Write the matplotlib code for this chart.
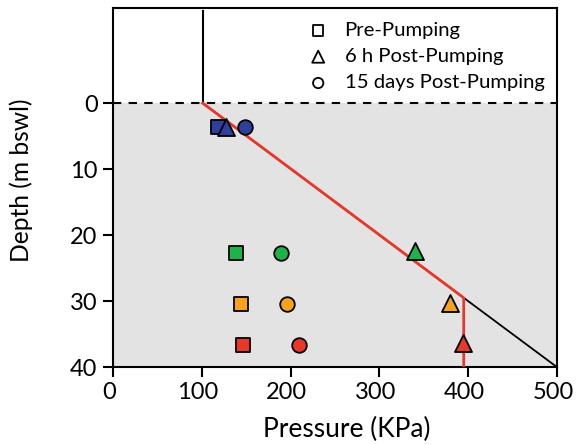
import numpy as np
import matplotlib.pyplot as plt
import matplotlib.transforms as mtransforms

plt.rcParams['font.family'] = ['Lato', 'DejaVu Sans']

# pressure (KPa) and depth (m bswl)
depths = [3.7, 22.7, 30.5, 36.6]
colors = ['#2e3f9e', '#1db34a', '#f7a21b', '#e8382a']
pre_pumping = [118, 139, 144, 147]
post_6h = [127, 340, 380, 394]
post_15d = [149, 189, 196, 210]
tri_depths = [3.6, 22.4, 30.3, 36.4]

# hydrostatic line and measured profile
hydro_p = [101, 395, 500]
hydro_d = [0, 29.5, 40]
red_p = [101, 395, 395]
red_d = [0, 29.5, 40]

fig = plt.figure(figsize=(5.76, 4.45), dpi=100)
ax = fig.add_axes([0.196, 0.175, 0.771, 0.807])

ax.axhspan(0, 40, color='#e3e3e3', zorder=0)
ax.axhline(0, color='black', ls=(0, (4, 3.5)), lw=1.5, zorder=1)
ax.plot([101, 101], [-14, 0], color='black', lw=1.5, zorder=2)
ax.plot(hydro_p, hydro_d, color='black', lw=1.3, zorder=2)
ax.plot(red_p, red_d, color='#e8382a', lw=2, zorder=3)

for i in range(len(depths)):
    ax.scatter(pre_pumping[i], depths[i], marker='s', s=110, c=colors[i],
               edgecolors='black', linewidths=1.3, zorder=4)
    ax.scatter(post_15d[i], depths[i], marker='o', s=110, c=colors[i],
               edgecolors='black', linewidths=1.3, zorder=4)
    ax.scatter(post_6h[i], tri_depths[i], marker='^', s=150, c=colors[i],
               edgecolors='black', linewidths=1.3, zorder=5)

# legend with hollow markers
h1 = ax.scatter([], [], marker='s', s=55, facecolors='none', edgecolors='black', linewidths=1.3)
h2 = ax.scatter([], [], marker='^', s=75, facecolors='none', edgecolors='black', linewidths=1.3)
h3 = ax.scatter([], [], marker='o', s=55, facecolors='none', edgecolors='black', linewidths=1.3)
ax.legend([h1, h2, h3], ['Pre-Pumping', '6 h Post-Pumping', '15 days Post-Pumping'],
          loc='upper right', frameon=False, fontsize=14.6, handletextpad=0.3,
          labelspacing=0.45, borderaxespad=0.0, bbox_to_anchor=(0.99, 0.985))

ax.set_xlim(0, 500)
ax.set_ylim(40, -14.4)
ax.set_xticks([0, 100, 200, 300, 400, 500])
ax.set_yticks([0, 10, 20, 30, 40])
ax.tick_params(direction='out', length=7, width=1.5, labelsize=17, pad=4)
for s in ax.spines.values():
    s.set_linewidth(1.5)

# nudge x tick labels a little left so "500" stays inside the figure
shift = mtransforms.ScaledTranslation(-4 / 100, 0, fig.dpi_scale_trans)
for lbl in ax.get_xticklabels():
    lbl.set_transform(lbl.get_transform() + shift)

ax.set_xlabel('Pressure (KPa)', fontsize=19)
ax.set_ylabel('Depth (m bswl)', fontsize=17.7)
ax.xaxis.set_label_coords(0.527, -0.14)
ax.yaxis.set_label_coords(-0.18, 0.52)

fig.savefig('out.png', dpi=100)
